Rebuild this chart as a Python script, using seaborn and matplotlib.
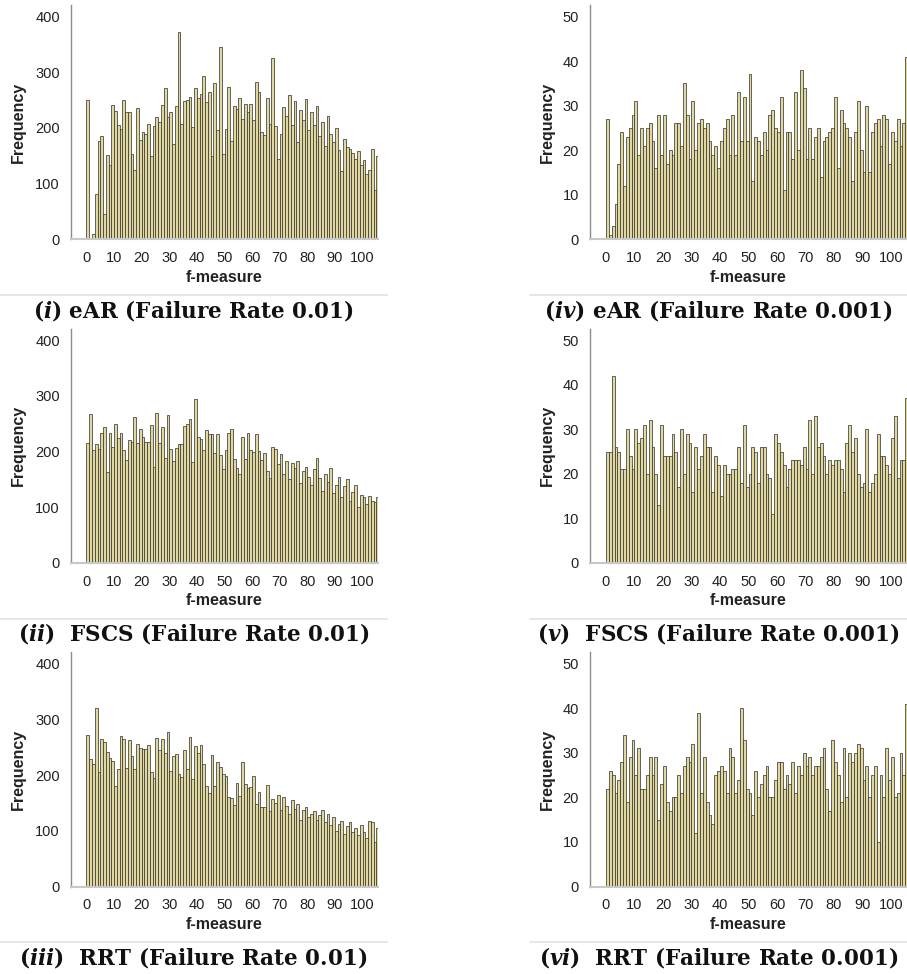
import numpy as np
import pandas as pd
import matplotlib
matplotlib.use("Agg")
import matplotlib.pyplot as plt
import seaborn as sns
from matplotlib.lines import Line2D

# ---------------- data ----------------
f_bins = list(range(106))          # f-measure bins (left edges, width 1)

ear_r01 = [251, 1, 10, 81, 177, 186, 45, 151, 134, 241, 231, 205, 198, 251, 228, 228, 154, 125, 236, 178,
           193, 189, 208, 150, 204, 219, 211, 241, 271, 220, 228, 171, 240, 373, 208, 249, 251, 256, 202, 272,
           253, 261, 293, 247, 265, 149, 281, 196, 346, 154, 198, 273, 176, 240, 235, 253, 217, 243, 229, 244,
           214, 283, 264, 192, 188, 254, 207, 325, 204, 144, 189,
           238, 222, 260, 205, 248, 175, 233, 215, 252, 196, 228, 205, 240, 185, 210, 168, 222, 190, 175, 200,
           160, 122, 180, 165, 162, 155, 145, 158, 133, 142, 118, 125, 163, 88, 150]

fscs_r01 = [215, 267, 203, 213, 205, 233, 244, 163, 233, 208, 249, 225, 234, 202, 185, 220, 217, 262, 215, 240,
            227, 217, 217, 247, 172, 270, 216, 245, 189, 266, 204, 183, 207, 214, 213, 246, 250, 259, 181, 294,
            227, 223, 202, 239, 231, 231, 197, 232, 193, 169, 202, 234, 241, 186, 171, 160, 226, 187, 233, 203,
            199, 232, 201, 184, 197, 166, 152, 208,
            205, 178, 195, 160, 183, 150, 180, 170, 183, 143, 165, 172, 155, 140, 168, 188, 152, 130, 160, 145,
            170, 125, 140, 155, 118, 138, 150, 112, 128, 140, 100, 122, 118, 105, 120, 112, 110, 118]

rrt_r01 = [272, 229, 221, 320, 205, 265, 259, 241, 230, 226, 181, 211, 271, 265, 213, 263, 235, 211, 256, 248,
           247, 247, 254, 205, 195, 266, 245, 265, 240, 277, 207, 235, 238, 202, 197, 245, 211, 269, 193, 253,
           239, 254, 220, 181, 168, 237, 181, 224, 214, 202, 198, 161, 159, 146, 186, 163, 223, 184, 177, 179,
           199, 149, 169, 142, 142, 183,
           135, 158, 150, 165, 138, 160, 145, 130, 155, 140, 148, 120, 138, 142, 125, 130, 135, 120, 128, 138,
           115, 130, 110, 125, 100, 112, 118, 95, 108, 115, 98, 105, 92, 110, 98, 88, 117, 115, 80, 105]

ear_r001 = [27, 1, 3, 8, 17, 24, 12, 23, 25, 28, 31, 19, 25, 21, 25, 26, 22, 16, 28, 19,
            28, 17, 20, 19, 26, 26, 21, 35, 28, 18, 31, 20, 26, 27, 25, 26, 22, 19, 21, 16,
            22, 25, 27, 19, 28, 19, 33, 22, 32, 22, 37, 13, 23, 22, 19, 24, 20, 28, 29, 25,
            24, 32, 11, 24, 24, 18, 33, 20, 38, 34, 18, 25, 18, 23, 25, 14, 22, 23, 24, 25,
            32, 16, 29, 26, 25, 23, 13, 24, 31, 20, 15, 30, 15, 24, 26, 27, 21, 28, 27, 17,
            24, 22, 27, 21, 26, 41]

fscs_r001 = [25, 25, 42, 26, 25, 21, 21, 30, 24, 21, 30, 27, 28, 31, 20, 32, 26, 20, 13, 31,
             24, 24, 24, 29, 25, 17, 30, 20, 29, 27, 16, 26, 21,
             24, 29, 26, 26, 16, 24, 22, 15, 22, 20, 20, 21, 21, 26, 18, 31, 17, 20, 26, 25,
             18, 26, 26, 20, 19, 11,
             29, 27, 25, 22, 17, 21, 23, 23, 23, 22, 26, 21, 32, 20, 33, 26, 27, 24, 20, 23,
             22, 23, 23, 21, 16, 27, 31, 25, 28, 20, 17, 18, 30, 16, 18, 20, 29, 24, 24, 22,
             20, 28, 33, 19, 23, 23, 37]

rrt_r001 = [22, 26, 25, 21, 24, 28, 34, 19, 29, 33, 25, 31, 22, 22, 25, 29, 25, 29, 15, 23,
            27, 19, 17, 20, 20, 25, 21, 27, 29, 28, 32, 12, 39, 21, 29, 19, 16, 14, 25, 26,
            27, 26, 21, 31, 29, 21, 24, 40, 33, 22, 21, 16, 26, 20, 23, 25, 27, 20, 20, 24,
            28, 28, 22, 25, 23, 28, 21, 27, 25, 30, 27, 29, 25, 27, 27, 29, 31, 22, 17, 33,
            28, 25, 19, 31, 20, 30, 28, 30, 32, 31, 24, 27, 20, 25, 27, 10, 25, 20, 31, 24,
            29, 20, 21, 30, 25, 41]

x_ticks = [0, 10, 20, 30, 40, 50, 60, 70, 80, 90, 100]
y_ticks_01 = [0, 100, 200, 300, 400]
y_ticks_001 = [0, 10, 20, 30, 40, 50]

captions = [
    [r"($\mathit{i}$) eAR (Failure Rate 0.01)", r"($\mathit{iv}$) eAR (Failure Rate 0.001)"],
    [r"($\mathit{ii}$)  FSCS (Failure Rate 0.01)", r"($\mathit{v}$)  FSCS (Failure Rate 0.001)"],
    [r"($\mathit{iii}$)  RRT (Failure Rate 0.01)", r"($\mathit{vi}$)  RRT (Failure Rate 0.001)"],
]
series = [[ear_r01, ear_r001], [fscs_r01, fscs_r001], [rrt_r01, rrt_r001]]

# ---------------- style ----------------
sns.set_style("white")
plt.rcParams["font.family"] = ["Liberation Sans", "DejaVu Sans"]
plt.rcParams["mathtext.fontset"] = "custom"
plt.rcParams["mathtext.it"] = "DejaVu Serif:italic:bold"
plt.rcParams["mathtext.rm"] = "DejaVu Serif:bold"

W, H = 907, 974
fig = plt.figure(figsize=(W / 100, H / 100), dpi=100)

BAR_FILL = "#e0d8a0"
BAR_EDGE = "#3d3d33"

cols = {
    0: dict(x0=71, w=307, ymax=421, yt=y_ticks_01, sep=(0, 387), cx=193.5, ylab_x=18),
    1: dict(x0=590, w=317, ymax=52.6, yt=y_ticks_001, sep=(530, 907), cx=718.5, ylab_x=547),
}
AX_H = 234.3

for r in range(3):
    y0 = 239.3 + 323.6 * r
    for c in range(2):
        g = cols[c]
        df = pd.DataFrame({"f": f_bins, "freq": series[r][c]})
        ax = fig.add_axes([g["x0"] / W, 1 - y0 / H, g["w"] / W, AX_H / H])
        sns.histplot(data=df, x="f", weights="freq", binwidth=1, binrange=(0, 106),
                     color=BAR_FILL, edgecolor=BAR_EDGE, linewidth=0.55, alpha=1,
                     ax=ax)
        ax.set_xlim(-5.6, 105.6)
        ax.set_ylim(0, g["ymax"])
        ax.set_xticks(x_ticks)
        ax.set_yticks(g["yt"])
        for s in ("top", "right"):
            ax.spines[s].set_visible(False)
        ax.spines["left"].set_color("#8c8c8c")
        ax.spines["left"].set_linewidth(1.0)
        ax.spines["bottom"].set_color("#c8c8c8")
        ax.spines["bottom"].set_linewidth(1.5)
        ax.tick_params(axis="x", length=5.5, width=1, color="#555555", pad=3,
                       labelsize=10.5, labelcolor="#222222", direction="out")
        ax.tick_params(axis="y", length=3, width=1, color="#555555", pad=5,
                       labelsize=10.5, labelcolor="#222222", direction="out")
        ax.set_xlabel("f-measure", fontsize=11.5, fontweight="bold", color="#222222")
        ax.set_ylabel("Frequency", fontsize=11.5, fontweight="bold", color="#222222")
        ax.xaxis.set_label_coords(0.5, -37.7 / AX_H)
        ax.xaxis.label.set_va("center")
        ax.yaxis.set_label_coords((g["ylab_x"] - g["x0"]) / g["w"], 0.5)
        ax.yaxis.label.set_va("center")
        ax.grid(False)

        # separator line and caption
        ysep = 1 - (y0 + 55.7) / H
        fig.add_artist(Line2D([g["sep"][0] / W, g["sep"][1] / W], [ysep, ysep],
                              transform=fig.transFigure, color="#e4e4e4", lw=1.3))
        fig.text(g["cx"] / W, 1 - (y0 + 71) / H, captions[r][c],
                 ha="center", va="center", fontsize=15.5, fontweight="bold",
                 family="DejaVu Serif", color="#111111")

fig.savefig("out.png", dpi=100)
